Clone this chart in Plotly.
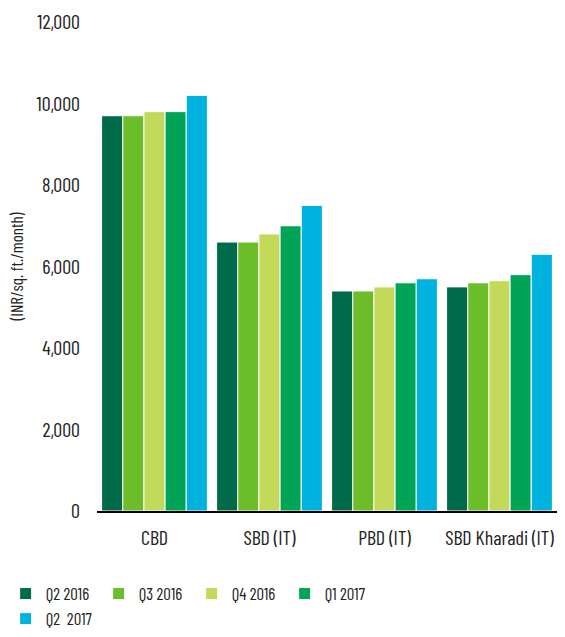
import plotly.graph_objects as go

categories = ["CBD", "SBD (IT)", "PBD (IT)", "SBD Kharadi (IT)"]
quarters = ["Q2 2016", "Q3 2016", "Q4 2016", "Q1 2017", "Q2\u00a0 2017"]
rents = {
    "Q2 2016": [9700, 6600, 5400, 5500],
    "Q3 2016": [9700, 6600, 5400, 5600],
    "Q4 2016": [9800, 6800, 5500, 5650],
    "Q1 2017": [9800, 7000, 5600, 5800],
    "Q2\u00a0 2017": [10200, 7500, 5700, 6300],
}
colors = ["#006b4a", "#6cbd2a", "#c2d95a", "#00a457", "#00b2de"]
y_ticks = [0, 2000, 4000, 6000, 8000, 10000, 12000]

FONT = "Barlow Condensed, Sofia Sans Condensed, sans-serif"

fig = go.Figure()
for q, c in zip(quarters, colors):
    fig.add_trace(go.Bar(
        x=categories, y=rents[q], name=q,
        marker=dict(color=c, line=dict(color="white", width=1)),
    ))

fig.update_layout(
    width=565, height=637,
    margin=dict(l=97, r=8, t=22, b=126, autoexpand=False),
    paper_bgcolor="white", plot_bgcolor="white",
    barmode="group", bargap=0.08, bargroupgap=0,
    font=dict(family=FONT, size=20, color="#222222"),
    xaxis=dict(
        showline=True, linecolor="black", linewidth=2,
        showgrid=False, ticks="", ticklabelstandoff=8,
    ),
    yaxis=dict(
        range=[0, 12000], tickvals=y_ticks, tickformat=",",
        showgrid=False, zeroline=False, showline=False, ticks="",
        ticklabelstandoff=16,
        title=dict(text="(INR/sq. ft./month)", font=dict(size=17), standoff=8),
    ),
    legend=dict(
        orientation="h", x=0.01, xanchor="left", xref="container",
        y=0.0, yanchor="bottom", yref="container",
        itemwidth=30, traceorder="normal",
        entrywidth=48, entrywidthmode="pixels",
        font=dict(size=17),
    ),
)

fig.write_html("out.html")
